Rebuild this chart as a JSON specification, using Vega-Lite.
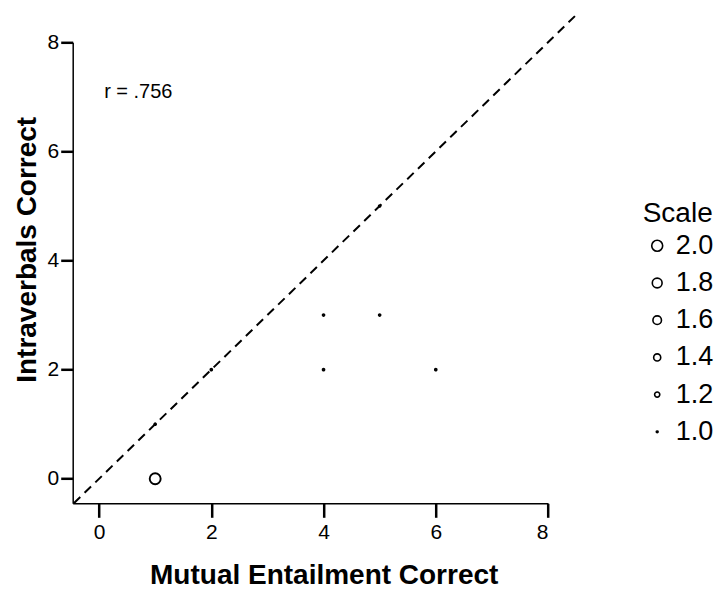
{
  "$schema": "https://vega.github.io/schema/vega-lite/v6.json",
  "autosize": {"type": "none"},
  "padding": {"left": 72.7, "top": 42.3, "right": 172, "bottom": 87},
  "width": 475.3,
  "height": 461,
  "background": "white",
  "config": {
    "view": {"stroke": null},
    "font": "Liberation Sans",
    "axis": {
      "domainColor": "black", "domainWidth": 1.5, "tickColor": "black", "tickWidth": 2.5,
      "labelColor": "black", "titleColor": "black", "grid": false,
      "labelFont": "Liberation Sans", "titleFont": "Liberation Sans"
    }
  },
  "layer": [
    {
      "data": {"values": [{"a": -0.45}, {"a": 8.48}]},
      "mark": {"type": "line", "color": "black", "strokeWidth": 2, "strokeDash": [9, 6], "clip": false},
      "encoding": {
        "x": {"field": "a", "type": "quantitative"},
        "y": {"field": "a", "type": "quantitative"}
      }
    },
    {
      "data": {"values": [
        {"me": 1, "iv": 0, "Scale": 2},
        {"me": 1, "iv": 1, "Scale": 1},
        {"me": 2, "iv": 2, "Scale": 1},
        {"me": 4, "iv": 2, "Scale": 1},
        {"me": 4, "iv": 3, "Scale": 1},
        {"me": 5, "iv": 3, "Scale": 1},
        {"me": 5, "iv": 5, "Scale": 1},
        {"me": 6, "iv": 2, "Scale": 1}
      ]},
      "mark": {"type": "point", "shape": "circle", "filled": false, "stroke": "black", "strokeWidth": 1.9, "opacity": 1},
      "encoding": {
        "x": {"field": "me", "type": "quantitative",
              "scale": {"domain": [-0.47, 8], "nice": false, "zero": false},
              "axis": {"values": [0, 2, 4, 6, 8], "format": "d", "tickSize": 14, "labelFontSize": 21, "labelPadding": 4,
                       "title": "Mutual Entailment Correct", "titleFontSize": 28, "titleFontWeight": "bold",
                       "titleX": 251, "titleY": 80, "titleAlign": "center", "titleBaseline": "alphabetic"}},
        "y": {"field": "iv", "type": "quantitative",
              "scale": {"domain": [-0.45, 8], "nice": false, "zero": false},
              "axis": {"values": [0, 2, 4, 6, 8], "format": "d", "tickSize": 12, "labelFontSize": 21, "labelPadding": 2,
                       "title": "Intraverbals Correct", "titleFontSize": 28, "titleFontWeight": "bold",
                       "titleX": -45, "titleY": 207, "titleAlign": "center", "titleBaseline": "middle", "titleAngle": -90}},
        "size": {"field": "Scale", "type": "quantitative",
                 "scale": {"domain": [1, 2], "range": [3, 120]},
                 "legend": {"values": [2, 1.8, 1.6, 1.4, 1.2, 1], "format": ".1f", "orient": "none",
                            "legendX": 570, "legendY": 158, "titleFontSize": 28, "titleFontWeight": "normal",
                            "labelFontSize": 27, "titleColor": "black", "labelColor": "black",
                            "symbolStrokeColor": "black", "symbolStrokeWidth": 1.6, "symbolFillColor": "transparent",
                            "symbolOffset": 1, "labelOffset": 5, "rowPadding": 9.2, "titlePadding": 4}}
      }
    },
    {
      "data": {"values": [{"label": "r = .756"}]},
      "mark": {"type": "text", "align": "left", "baseline": "middle", "fontSize": 20, "color": "black", "font": "Liberation Sans"},
      "encoding": {
        "x": {"datum": 0.09, "type": "quantitative"},
        "y": {"datum": 7.09, "type": "quantitative"},
        "text": {"field": "label"}
      }
    }
  ]
}
